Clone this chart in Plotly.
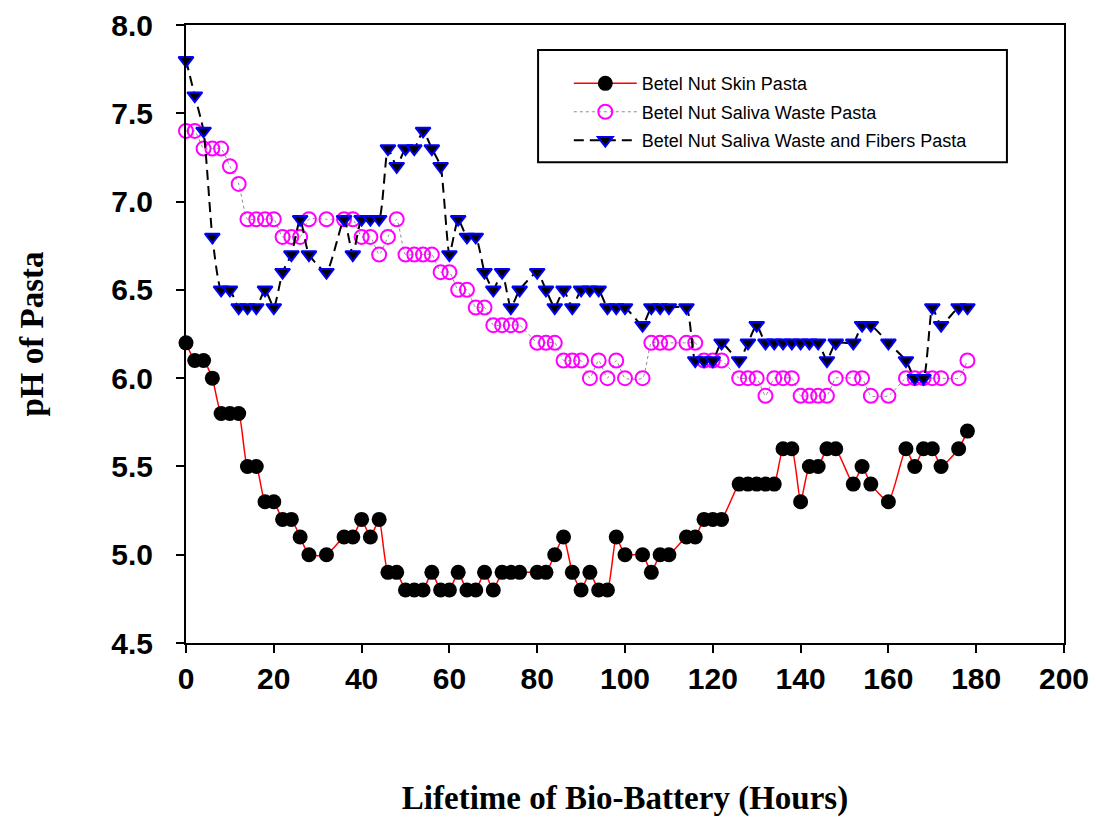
import plotly.graph_objects as go

hours = [0, 2, 4, 6, 8, 10, 12, 14, 16, 18, 20, 22, 24, 26, 28, 32, 36, 38, 40, 42,
         44, 46, 48, 50, 52, 54, 56, 58, 60, 62, 64, 66, 68, 70, 72, 74, 76, 80, 82, 84,
         86, 88, 90, 92, 94, 96, 98, 100, 104, 106, 108, 110, 114, 116, 118, 120, 122, 126, 128, 130,
         132, 134, 136, 138, 140, 142, 144, 146, 148, 152, 154, 156, 160, 164, 166, 168, 170, 172, 176, 178]

skin_ph = [6.2, 6.1, 6.1, 6.0, 5.8, 5.8, 5.8, 5.5, 5.5, 5.3, 5.3, 5.2, 5.2, 5.1, 5.0, 5.0, 5.1, 5.1, 5.2, 5.1,
           5.2, 4.9, 4.9, 4.8, 4.8, 4.8, 4.9, 4.8, 4.8, 4.9, 4.8, 4.8, 4.9, 4.8, 4.9, 4.9, 4.9, 4.9, 4.9, 5.0,
           5.1, 4.9, 4.8, 4.9, 4.8, 4.8, 5.1, 5.0, 5.0, 4.9, 5.0, 5.0, 5.1, 5.1, 5.2, 5.2, 5.2, 5.4, 5.4, 5.4,
           5.4, 5.4, 5.6, 5.6, 5.3, 5.5, 5.5, 5.6, 5.6, 5.4, 5.5, 5.4, 5.3, 5.6, 5.5, 5.6, 5.6, 5.5, 5.6, 5.7]

saliva_ph = [7.4, 7.4, 7.3, 7.3, 7.3, 7.2, 7.1, 6.9, 6.9, 6.9, 6.9, 6.8, 6.8, 6.8, 6.9, 6.9, 6.9, 6.9, 6.8, 6.8,
             6.7, 6.8, 6.9, 6.7, 6.7, 6.7, 6.7, 6.6, 6.6, 6.5, 6.5, 6.4, 6.4, 6.3, 6.3, 6.3, 6.3, 6.2, 6.2, 6.2,
             6.1, 6.1, 6.1, 6.0, 6.1, 6.0, 6.1, 6.0, 6.0, 6.2, 6.2, 6.2, 6.2, 6.2, 6.1, 6.1, 6.1, 6.0, 6.0, 6.0,
             5.9, 6.0, 6.0, 6.0, 5.9, 5.9, 5.9, 5.9, 6.0, 6.0, 6.0, 5.9, 5.9, 6.0, 6.0, 6.0, 6.0, 6.0, 6.0, 6.1]

fibers_ph = [7.8, 7.6, 7.4, 6.8, 6.5, 6.5, 6.4, 6.4, 6.4, 6.5, 6.4, 6.6, 6.7, 6.9, 6.7, 6.6, 6.9, 6.7, 6.9, 6.9,
             6.9, 7.3, 7.2, 7.3, 7.3, 7.4, 7.3, 7.2, 6.7, 6.9, 6.8, 6.8, 6.6, 6.5, 6.6, 6.4, 6.5, 6.6, 6.5, 6.4,
             6.5, 6.4, 6.5, 6.5, 6.5, 6.4, 6.4, 6.4, 6.3, 6.4, 6.4, 6.4, 6.4, 6.1, 6.1, 6.1, 6.2, 6.1, 6.2, 6.3,
             6.2, 6.2, 6.2, 6.2, 6.2, 6.2, 6.2, 6.1, 6.2, 6.2, 6.3, 6.3, 6.2, 6.1, 6.0, 6.0, 6.4, 6.3, 6.4, 6.4]

series_names = ["Betel Nut Skin Pasta",
                "Betel Nut Saliva Waste Pasta",
                "Betel Nut Saliva Waste and Fibers Pasta"]

x_ticks = [0, 20, 40, 60, 80, 100, 120, 140, 160, 180, 200]
y_ticks = [4.5, 5.0, 5.5, 6.0, 6.5, 7.0, 7.5, 8.0]

fig = go.Figure()

fig.add_trace(go.Scatter(
    x=hours, y=skin_ph, name=series_names[0], mode="lines+markers",
    line=dict(color="#FF0000", width=1.5, shape="spline", smoothing=0.5),
    marker=dict(symbol="circle", size=15, color="black", line=dict(width=0)),
    cliponaxis=False, legendgroup="a"))

fig.add_trace(go.Scatter(
    x=hours, y=saliva_ph, name=series_names[1], mode="lines+markers",
    line=dict(color="#8c8c8c", width=1, dash="dot", shape="spline", smoothing=0.5),
    marker=dict(symbol="circle-open", size=14, color="#FF00FF", line=dict(width=2, color="#FF00FF")),
    cliponaxis=False, legendgroup="b"))

fig.add_trace(go.Scatter(
    x=hours, y=fibers_ph, name=series_names[2], mode="lines+markers",
    line=dict(color="black", width=2, dash="10px,6px", shape="spline", smoothing=0.5),
    marker=dict(symbol="triangle-down", size=13, color="black", line=dict(width=2, color="#0000FF")),
    cliponaxis=False, legendgroup="c"))

tick_font = dict(family="Liberation Sans, Arial, sans-serif", size=30, color="black", weight="bold")
title_font = dict(family="Liberation Serif, Times New Roman, serif", size=33, color="black", weight="bold")

fig.update_layout(
    width=1096, height=817,
    margin=dict(l=186, r=32, t=25, b=174, autoexpand=False),
    plot_bgcolor="white", paper_bgcolor="white",
    showlegend=True,
    legend=dict(x=0.436, xanchor="left", y=0.935, yanchor="top",
                bgcolor="rgba(0,0,0,0)", borderwidth=0, itemwidth=63,
                tracegroupgap=2,
                font=dict(family="Liberation Sans, Arial, sans-serif", size=18, color="black")),
    xaxis=dict(range=[0, 200], tickvals=x_ticks, ticktext=[str(v) for v in x_ticks],
               showline=True, linecolor="black", linewidth=2, mirror=True,
               ticks="outside", ticklen=8, tickwidth=2, tickcolor="black",
               showgrid=False, zeroline=False, tickfont=tick_font,
               title=dict(text="Lifetime of Bio-Battery (Hours)", font=title_font, standoff=100),
               automargin=False),
    yaxis=dict(range=[4.5, 8.0], tickvals=y_ticks, ticktext=[f"{v:.1f}" for v in y_ticks],
               showline=True, linecolor="black", linewidth=2, mirror=True,
               ticks="outside", ticklen=8, tickwidth=2, tickcolor="black",
               showgrid=False, zeroline=False, tickfont=tick_font, ticklabelstandoff=17,
               title=dict(text="pH of Pasta", font=title_font, standoff=58),
               automargin=False),
    shapes=[dict(type="rect", xref="paper", yref="paper",
                 x0=0.401, x1=0.935, y0=0.778, y1=0.9595,
                 line=dict(color="black", width=2), fillcolor="rgba(0,0,0,0)", layer="above")],
)

fig.write_html("out.html",
               config={"displayModeBar": False},
               post_script="document.body.style.margin='0';document.body.style.padding='0';")
